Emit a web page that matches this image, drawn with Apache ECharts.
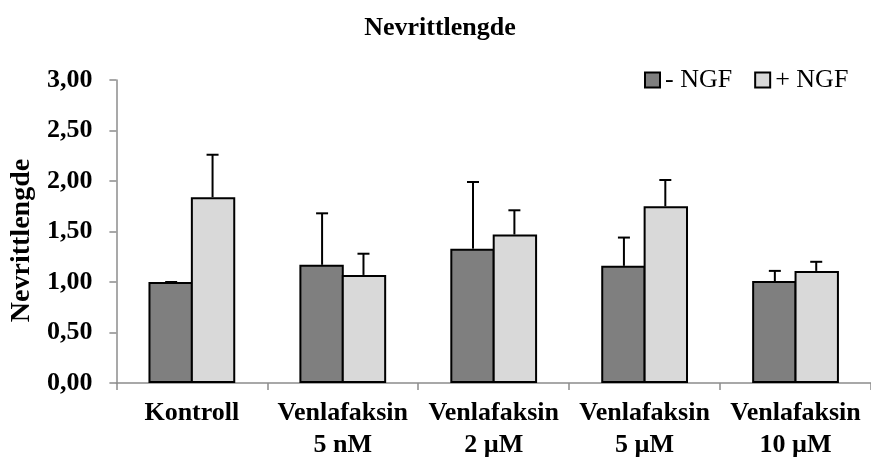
<!DOCTYPE html>
<html>
<head>
<meta charset="utf-8">
<script src="https://cdn.jsdelivr.net/npm/echarts@6/dist/echarts.min.js"></script>
<style>html,body{margin:0;padding:0;background:#fff}#c{width:871px;height:461px}</style>
</head>
<body>
<div id="c"></div>
<script>
var categories = ['Kontroll', 'Venlafaksin\n5 nM', 'Venlafaksin\n2 µM', 'Venlafaksin\n5 µM', 'Venlafaksin\n10 µM'];
var minusNGF = [1.00, 1.17, 1.33, 1.16, 1.01];
var minusErr = [0.00, 0.51, 0.66, 0.28, 0.10];
var plusNGF = [1.84, 1.07, 1.47, 1.75, 1.11];
var plusErr = [0.42, 0.21, 0.24, 0.26, 0.09];
var seriesNames = ['- NGF', '+ NGF'];

var FONT = "'Liberation Serif','Times New Roman',serif";
var GAP = 0.425;

function errRender(vals, errs, side) {
  return function (params, api) {
    var i = api.value(0);
    var v = vals[i], e = errs[i];
    var catW = api.size([1, 0])[0];
    var bw = catW * (1 - GAP) / 2;
    var base = api.coord([i, v]);
    var top = api.coord([i, v + e]);
    var x = base[0] + side * (bw / 2 - 1);
    var cap = 6;
    return {
      type: 'group',
      children: [
        {type: 'line', shape: {x1: x, y1: base[1], x2: x, y2: top[1]}, style: {stroke: '#000', lineWidth: 2}},
        {type: 'line', shape: {x1: x - cap, y1: top[1], x2: x + cap, y2: top[1]}, style: {stroke: '#000', lineWidth: 2}}
      ]
    };
  };
}

var chart = echarts.init(document.getElementById('c'), null, {renderer: 'canvas'});
chart.setOption({
  animation: false,
  backgroundColor: '#fff',
  title: {
    text: 'Nevrittlengde',
    left: 440, top: 15, padding: 0, textAlign: 'center',
    textStyle: {fontFamily: FONT, fontWeight: 'bold', fontSize: 26, color: '#000'}
  },
  legend: {
    data: seriesNames,
    left: 644, top: 67, padding: 0,
    icon: 'rect', itemWidth: 15, itemHeight: 15, itemGap: 22,
    textStyle: {fontFamily: FONT, fontSize: 26, color: '#000'}
  },
  grid: {left: 114, right: -8, top: 80, bottom: 75, containLabel: false},
  xAxis: {
    type: 'category',
    data: categories,
    axisLine: {lineStyle: {color: '#8c8c8c', width: 1.5}},
    axisTick: {show: true, length: 7, lineStyle: {color: '#8c8c8c', width: 1.5}},
    axisLabel: {fontFamily: FONT, fontWeight: 'bold', fontSize: 26, color: '#000', lineHeight: 32, margin: 14, interval: 0}
  },
  yAxis: {
    type: 'value', min: 0, max: 3, interval: 0.5,
    name: 'Nevrittlengde', nameLocation: 'middle', nameGap: 80,
    nameTextStyle: {fontFamily: FONT, fontWeight: 'bold', fontSize: 28, color: '#000', padding: [0, 18, 0, 0]},
    axisLine: {show: true, lineStyle: {color: '#8c8c8c', width: 1.5}},
    axisTick: {show: true, length: 7, lineStyle: {color: '#8c8c8c', width: 1.5}},
    splitLine: {show: false},
    axisLabel: {
      fontFamily: FONT, fontWeight: 'bold', fontSize: 26, color: '#000', margin: 24,
      formatter: function (v) { return v.toFixed(2).replace('.', ','); }
    }
  },
  series: [
    {name: seriesNames[0], type: 'bar', data: minusNGF, barGap: '-4.5%', barCategoryGap: (GAP * 100) + '%',
     itemStyle: {color: '#7f7f7f', borderColor: '#000', borderWidth: 2}},
    {name: seriesNames[1], type: 'bar', data: plusNGF, barGap: '-4.5%', barCategoryGap: (GAP * 100) + '%',
     itemStyle: {color: '#d9d9d9', borderColor: '#000', borderWidth: 2}},
    {type: 'custom', renderItem: errRender(minusNGF, minusErr, -1), data: minusNGF.map(function (v, i) { return [i, v]; }), z: 5, silent: true},
    {type: 'custom', renderItem: errRender(plusNGF, plusErr, 1), data: plusNGF.map(function (v, i) { return [i, v]; }), z: 5, silent: true}
  ]
});
</script>
</body>
</html>
